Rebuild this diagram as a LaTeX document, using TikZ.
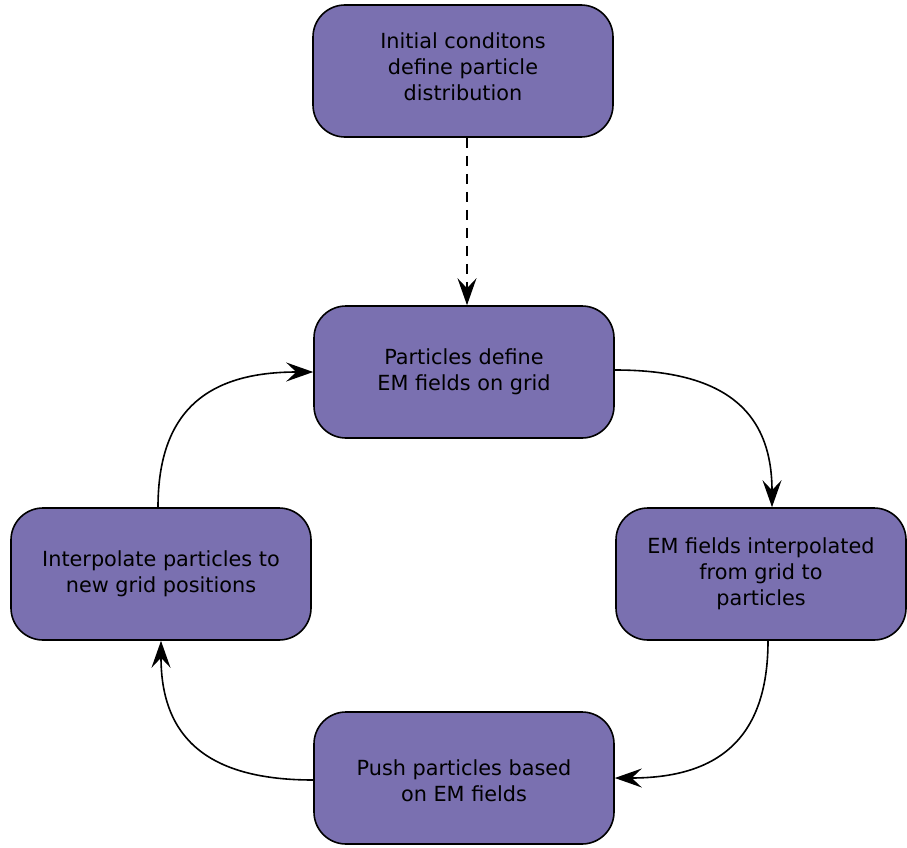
\documentclass[tikz,border=0pt]{standalone}
\usepackage{fontspec}
\setmainfont{DejaVu Sans}
\usetikzlibrary{arrows.meta}

\definecolor{stagefill}{RGB}{122,112,176}

\begin{document}
\begin{tikzpicture}[
    x=1pt, y=1pt,
    stagebox/.style={draw=black, line width=1.6pt, fill=stagefill, rounded corners=32pt,
        minimum width=300pt, minimum height=132pt, align=center,
        font=\fontsize{20.8}{26}\selectfont, text=black},
    loopedge/.style={line width=1.6pt, looseness=1.25,
        -{Stealth[length=27pt,width=19pt,inset=10pt]}},
    seededge/.style={loopedge, dash pattern=on 10pt off 8pt}
]

\useasboundingbox (0,0) rectangle (907,-848);

% =========================
% Stages
% =========================
\node[stagebox, text depth=8pt] (init) at (463,-71) {Initial conditons\\define particle\\distribution};
\node[stagebox] (fields) at (464,-372) {Particles define\\EM fields on grid};
\node[stagebox, minimum width=290pt] (interp) at (761,-574) {EM fields interpolated\\from grid to\\particles};
\node[stagebox, text height=48pt] (push) at (464,-778) {Push particles based\\on EM fields};
\node[stagebox] (regrid) at (161,-574) {Interpolate particles to\\new grid positions};

% =========================
% Loop
% =========================
% seeding happens only once
\draw[seededge] ([xshift=4pt]init.south) -- ([xshift=3pt]fields.north);

\draw[loopedge] ([yshift=2pt]fields.east) to[out=0,in=90] ([xshift=11pt]interp.north);
\draw[loopedge] ([xshift=7pt]interp.south) to[out=270,in=0] (push.east);
\draw[loopedge] ([yshift=-2pt]push.west) to[out=180,in=270] (regrid.south);
\draw[loopedge] ([xshift=-3pt]regrid.north) to[out=90,in=180] (fields.west);

\end{tikzpicture}
\end{document}
